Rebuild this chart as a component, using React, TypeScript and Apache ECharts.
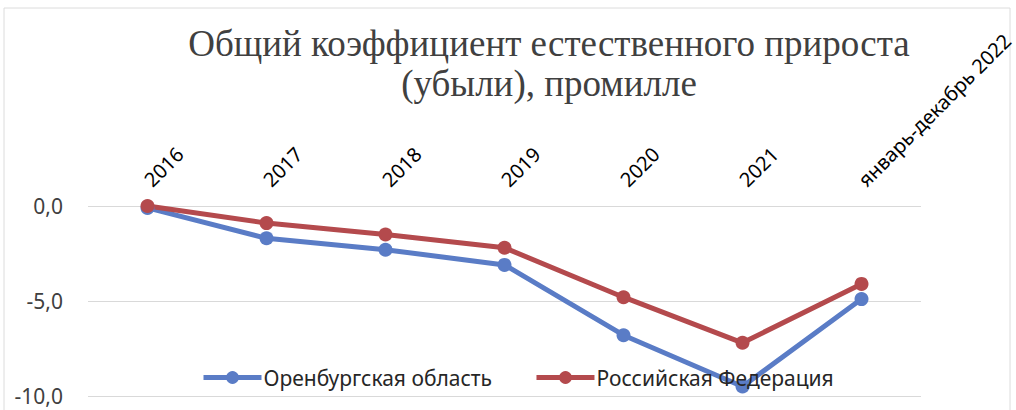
import React, { useEffect, useRef } from "react";
import * as echarts from "echarts";

const categories = ["2016", "2017", "2018", "2019", "2020", "2021", "январь-декабрь 2022"];
const orenburg = [-0.1, -1.7, -2.3, -3.1, -6.8, -9.5, -4.9];
const russia = [0.0, -0.9, -1.5, -2.2, -4.8, -7.2, -4.1];
const titleLines = ["Общий коэффициент естественного прироста", "(убыли), промилле"];
const seriesNames = ["Оренбургская область", "Российская Федерация"];

export default function App() {
  const ref = useRef<HTMLDivElement>(null);
  useEffect(() => {
    if (!ref.current) return;
    const chart = echarts.init(ref.current, null, { renderer: "svg" });
    const sans = "'Noto Sans', 'Open Sans', sans-serif";
    const serif = "'Liberation Serif', 'DejaVu Serif', serif";
    chart.setOption({
      animation: false,
      backgroundColor: "#ffffff",
      graphic: [
        {
          type: "rect",
          shape: { x: 4, y: 8, width: 1006, height: 410 },
          style: { fill: "none", stroke: "#dcdcdc", lineWidth: 1 },
          silent: true,
        },
        {
          type: "text",
          x: 549,
          y: 25,
          style: {
            text: titleLines[0],
            font: `37px ${serif}`,
            fill: "#404040",
            textAlign: "center",
            textVerticalAlign: "top",
          },
        },
        {
          type: "text",
          x: 549,
          y: 65,
          style: {
            text: titleLines[1],
            font: `37px ${serif}`,
            fill: "#404040",
            textAlign: "center",
            textVerticalAlign: "top",
          },
        },
      ],
      legend: {
        left: 196,
        top: 362,
        itemWidth: 58,
        itemHeight: 16,
        itemGap: 42,
        lineStyle: { width: 5 },
        textStyle: { fontFamily: sans, fontSize: 21, color: "#262626", padding: [0, 0, 0, -3] },
        data: seriesNames,
      },
      grid: { left: 88, right: 88, top: 206, bottom: 14, containLabel: false },
      xAxis: {
        type: "category",
        position: "top",
        data: categories,
        boundaryGap: true,
        axisLine: { show: false },
        axisTick: { show: false },
        axisLabel: {
          rotate: 45,
          fontFamily: sans,
          fontSize: 20,
          color: "#000000",
          margin: 23,
          interval: 0,
        },
      },
      yAxis: {
        type: "value",
        min: -10,
        max: 0,
        interval: 5,
        axisLine: { show: false },
        axisTick: { show: false },
        splitLine: { lineStyle: { color: "#d9d9d9", width: 1 } },
        axisLabel: {
          fontFamily: sans,
          fontSize: 21,
          color: "#404040",
          margin: 25,
          formatter: (v: number) => v.toFixed(1).replace(".", ","),
        },
      },
      series: [
        {
          name: seriesNames[0],
          type: "line",
          data: orenburg,
          symbol: "circle",
          symbolSize: 14,
          color: "#5a7cc6",
          lineStyle: { width: 5, color: "#5a7cc6" },
          itemStyle: { color: "#5a7cc6" },
        },
        {
          name: seriesNames[1],
          type: "line",
          data: russia,
          symbol: "circle",
          symbolSize: 14,
          color: "#b44a4d",
          lineStyle: { width: 5, color: "#b44a4d" },
          itemStyle: { color: "#b44a4d" },
        },
      ],
    });
    return () => chart.dispose();
  }, []);
  return (
    <div
      ref={ref}
      style={{ position: "fixed", left: 0, top: 0, width: 1016, height: 410 }}
    />
  );
}
